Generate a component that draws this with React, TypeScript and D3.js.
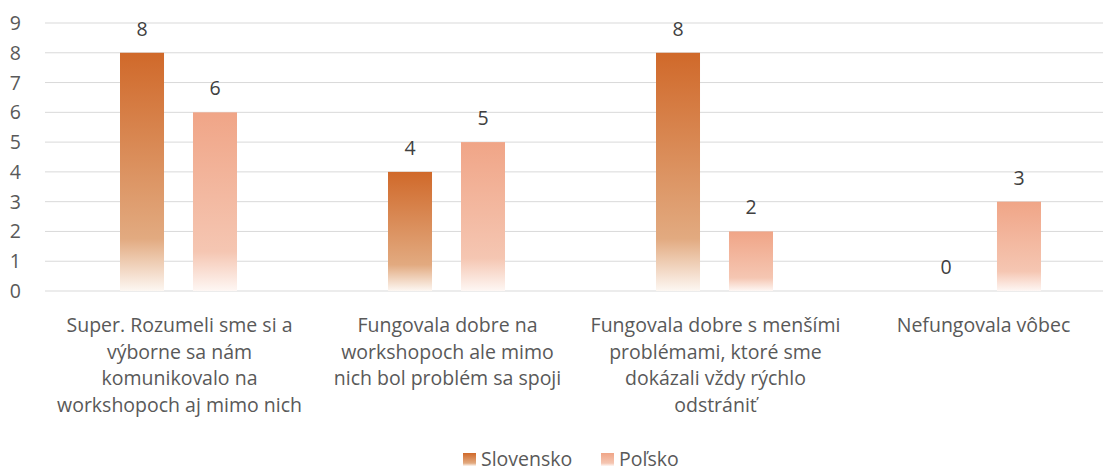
import * as d3 from 'd3';

const categories = ['cat1', 'cat2', 'cat3', 'cat4'];
const categoryLines = [
  ['Super. Rozumeli sme si a', 'výborne sa nám', 'komunikovalo na', 'workshopoch aj mimo nich'],
  ['Fungovala dobre na', 'workshopoch ale mimo', 'nich bol problém sa spoji'],
  ['Fungovala dobre s menšími', 'problémami, ktoré sme', 'dokázali vždy rýchlo', 'odstrániť'],
  ['Nefungovala vôbec'],
];
const seriesNames = ['Slovensko', 'Poľsko'];
const slovensko = [8, 4, 8, 0];
const polsko = [6, 5, 2, 3];
const yTicks = [0, 1, 2, 3, 4, 5, 6, 7, 8, 9];

const WIDTH = 1103;
const HEIGHT = 472;
const FONT = '"Open Sans", "Noto Sans", sans-serif';
const FS = 19.5;

const GRADIENTS = [
  { id: 'grad-sk', stops: ['#d0692a', '#e2aa80', '#fdf7f2'] },
  { id: 'grad-pl', stops: ['#f0a587', '#f5c6b2', '#fef7f4'] },
];

export default function App() {
  const values = [slovensko, polsko];

  const x0 = d3.scaleBand<string>().domain(categories).range([44.5, 1116.5]).padding(0);
  const x1 = d3.scaleBand<string>().domain(seriesNames).range([75.5, 192.5]).paddingInner(0.397).paddingOuter(0);
  const y = d3.scaleLinear().domain([0, 9]).range([291, 23]);

  return (
    <div style={{ position: 'fixed', left: 0, top: 0, width: WIDTH, height: HEIGHT, background: '#fff' }}>
      <svg width={WIDTH} height={HEIGHT} style={{ display: 'block', fontFamily: FONT }}>
        <defs>
          {GRADIENTS.map(g => (
            <linearGradient key={g.id} id={g.id} x1="0" y1="0" x2="0" y2="1">
              <stop offset="0" stopColor={g.stops[0]} />
              <stop offset="0.78" stopColor={g.stops[1]} />
              <stop offset="1" stopColor={g.stops[2]} />
            </linearGradient>
          ))}
        </defs>

        {/* grid + y axis */}
        <g>
          {yTicks.map(t => (
            <g key={t}>
              <line x1={45} x2={WIDTH} y1={y(t)} y2={y(t)} stroke="#d9d9d9" strokeWidth={1} />
              <text x={21} y={y(t) + 7} textAnchor="end" fontSize={FS} fill="#595959">
                {t}
              </text>
            </g>
          ))}
        </g>

        {/* bars */}
        {categories.map((c, ci) => (
          <g key={c} transform={`translate(${x0(c)},0)`}>
            {seriesNames.map((s, si) => {
              const v = values[si][ci];
              const bx = x1(s) || 0;
              return (
                <g key={s}>
                  {v > 0 && (
                    <rect
                      x={bx}
                      y={y(v)}
                      width={x1.bandwidth()}
                      height={y(0) - y(v)}
                      fill={`url(#${GRADIENTS[si].id})`}
                    />
                  )}
                  <text
                    x={bx + x1.bandwidth() / 2}
                    y={y(v) - 17}
                    textAnchor="middle"
                    fontSize={FS}
                    fill="#404040"
                  >
                    {v}
                  </text>
                </g>
              );
            })}
          </g>
        ))}

        {/* category labels */}
        {categories.map((c, ci) => (
          <text
            key={c}
            x={(x0(c) || 0) + x0.bandwidth() / 2 + 1}
            y={332}
            textAnchor="middle"
            fontSize={FS}
            fill="#595959"
          >
            {categoryLines[ci].map((line, li) => (
              <tspan key={li} x={(x0(c) || 0) + x0.bandwidth() / 2 + 1} dy={li === 0 ? 0 : 26.7}>
                {line}
              </tspan>
            ))}
          </text>
        ))}

        {/* legend */}
        <g>
          {seriesNames.map((s, si) => {
            const lx = si === 0 ? 463 : 601;
            return (
              <g key={s}>
                <rect x={lx} y={453} width={13} height={13} fill={`url(#${GRADIENTS[si].id})`} />
                <text x={lx + 18} y={466} fontSize={FS} fill="#595959">
                  {s}
                </text>
              </g>
            );
          })}
        </g>
      </svg>
    </div>
  );
}
